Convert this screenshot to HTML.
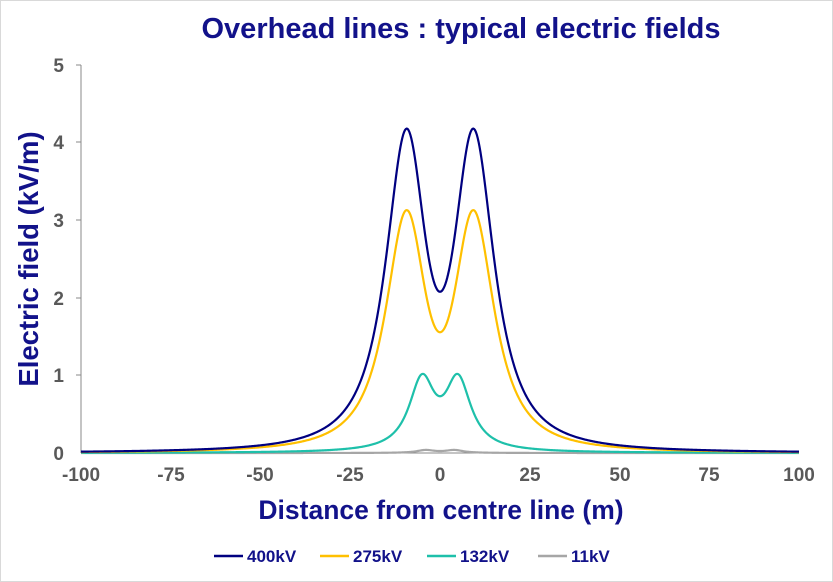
<!DOCTYPE html>
<html><head><meta charset="utf-8"><style>
html,body{margin:0;padding:0;background:#fff}
svg{display:block;font-family:"Liberation Sans",Arial,sans-serif}
</style></head><body>
<svg id="s" width="833" height="582" viewBox="0 0 833 582">
<rect x="0.5" y="0.5" width="832" height="581" fill="#fff" stroke="#d9d9d9"/>
<text x="461" y="38" text-anchor="middle" font-size="29" font-weight="bold" fill="#12128a">Overhead lines : typical electric fields</text>
<line x1="81" y1="65" x2="81" y2="453" stroke="#888" stroke-width="1"/>
<line x1="81" y1="453" x2="799" y2="453" stroke="#888" stroke-width="1"/>
<g font-size="19" font-weight="bold" fill="#595959" text-anchor="end">
<text x="64" y="72">5</text><text x="64" y="149">4</text><text x="64" y="227">3</text><text x="64" y="305">2</text><text x="64" y="382">1</text><text x="64" y="460">0</text>
</g>
<g font-size="19" font-weight="bold" fill="#595959" text-anchor="middle">
<text x="81" y="481">-100</text><text x="171" y="481">-75</text><text x="260" y="481">-50</text><text x="350" y="481">-25</text><text x="440" y="481">0</text><text x="530" y="481">25</text><text x="620" y="481">50</text><text x="709" y="481">75</text><text x="799" y="481">100</text>
</g>
<g stroke="#888" stroke-width="1">
<line x1="76" y1="65" x2="81" y2="65"/><line x1="76" y1="142" x2="81" y2="142"/><line x1="76" y1="220" x2="81" y2="220"/><line x1="76" y1="298" x2="81" y2="298"/><line x1="76" y1="375" x2="81" y2="375"/>
</g>
<text transform="translate(38,259) rotate(-90)" text-anchor="middle" font-size="27.5" font-weight="bold" fill="#12128a">Electric field  (kV/m)</text>
<text x="441" y="519" text-anchor="middle" font-size="26.5" font-weight="bold" fill="#12128a">Distance from centre line (m)</text>
<g id="curves" fill="none" stroke-width="2.2"></g>
<g font-size="17" font-weight="bold" fill="#12128a">
<line x1="214" y1="556" x2="243" y2="556" stroke="#000080" stroke-width="2.5"/><text x="247" y="562">400kV</text>
<line x1="320" y1="556" x2="349" y2="556" stroke="#ffc000" stroke-width="2.5"/><text x="353" y="562">275kV</text>
<line x1="427" y1="556" x2="456" y2="556" stroke="#1ec0aa" stroke-width="2.5"/><text x="460" y="562">132kV</text>
<line x1="538" y1="556" x2="567" y2="556" stroke="#a6a6a6" stroke-width="2.5"/><text x="571" y="562">11kV</text>
</g>
</svg>
<script>
function mk(peak,d,w,pw,k,s,color){
  var g=function(u){return Math.pow(1+(u/w)*(u/w),-pw);};
  var f=function(x){return (g(x-d)+g(x+d))*(1-k*Math.exp(-x*x/(2*s*s)));};
  var m=0;for(var x=-100;x<=100;x+=0.05){m=Math.max(m,f(x));}
  var p="";for(var x=-100;x<=100.001;x+=0.25){var v=f(x)/m*peak;var px=440+x*3.59,py=453-v*77.6;p+=(p?"L":"M")+px.toFixed(2)+","+py.toFixed(2);}
  var e=document.createElementNS("http://www.w3.org/2000/svg","path");e.setAttribute("d",p);e.setAttribute("stroke",color);document.getElementById("curves").appendChild(e);
}
mk(0.04,4,3,1,0,1,"#a6a6a6");
mk(1.02,5,4.4,1,0.05,2.5,"#1ec0aa");
mk(3.13,9.3,7.8,1.2,0.22,4,"#ffc000");
mk(4.18,9.3,7.8,1.2,0.22,4,"#000080");
</script>
</body></html>
